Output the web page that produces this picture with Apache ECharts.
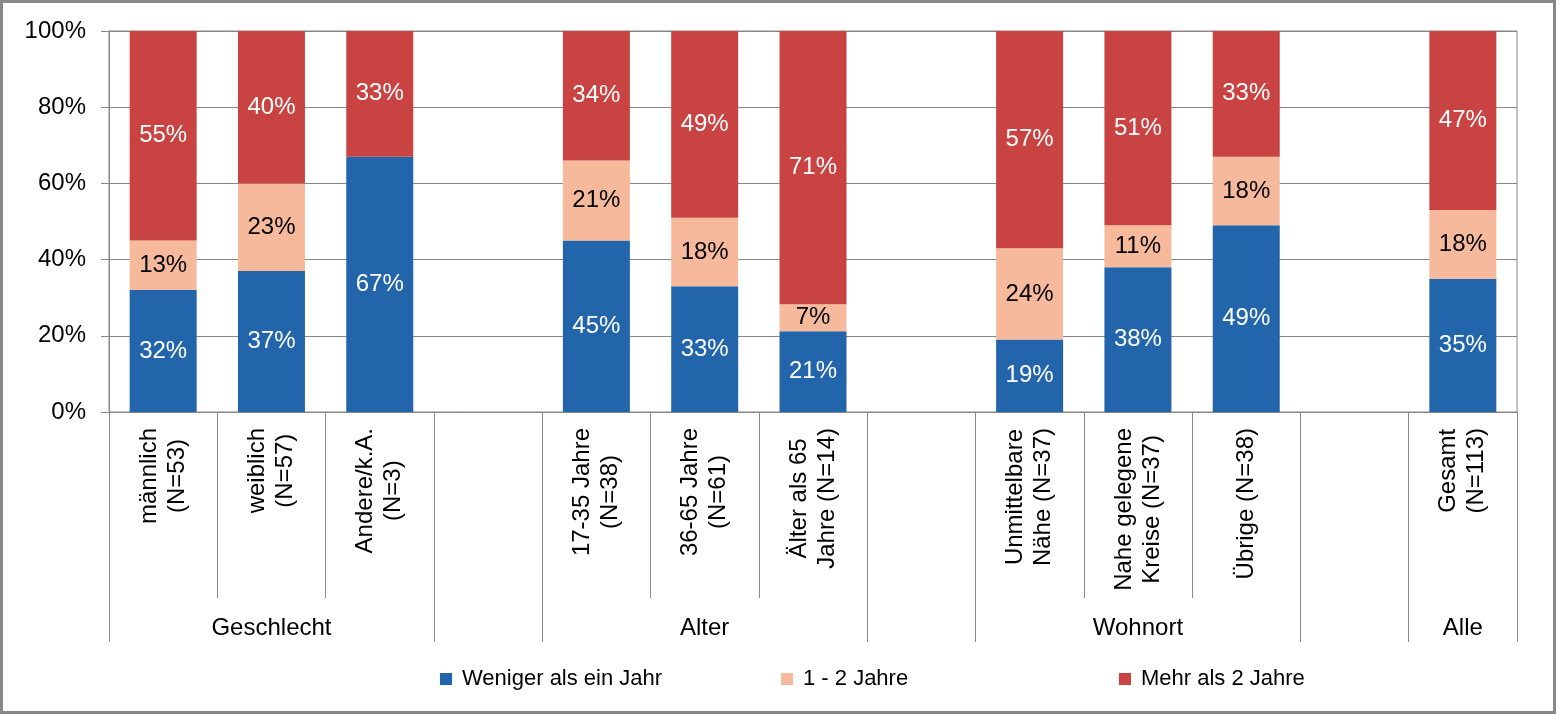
<!DOCTYPE html>
<html>
<head>
<meta charset="utf-8">
<script src="https://cdn.jsdelivr.net/npm/echarts@6/dist/echarts.min.js"></script>
<style>
  html, body { margin: 0; padding: 0; background: #fff; }
  #wrap { position: relative; width: 1556px; height: 714px; }
  #chart { position: absolute; left: 0; top: 0; width: 1556px; height: 714px; }
  #frame { position: absolute; left: 0; top: 0; width: 1556px; height: 714px; box-sizing: border-box; border: 3px solid #888; pointer-events: none; }
</style>
</head>
<body>
<div id="wrap"><div id="chart"></div><div id="frame"></div></div>
<script>
// ---- data ----
const categories = [
  'männlich\n(N=53)', 'weiblich\n(N=57)', 'Andere/k.A.\n(N=3)', ' ',
  '17-35 Jahre\n(N=38)', '36-65 Jahre\n(N=61)', 'Älter als 65\nJahre (N=14)', '  ',
  'Unmittelbare\nNähe (N=37)', 'Nahe gelegene\nKreise (N=37)', 'Übrige (N=38)', '   ',
  'Gesamt\n(N=113)'
];
const groupNames = ['Geschlecht', 'Alter', 'Wohnort', 'Alle'];
const groupBounds = [0, 3, 4, 7, 8, 11, 12, 13];
const seriesNames = ['Weniger als ein Jahr', '1 - 2 Jahre', 'Mehr als 2 Jahre'];
const lessThanOne = [32, 37, 67, null, 45, 33, 21, null, 19, 38, 49, null, 35];
const oneToTwo    = [13, 23, 0,  null, 21, 18, 7,  null, 24, 11, 18, null, 18];
const moreThanTwo = [55, 40, 33, null, 34, 49, 71, null, 57, 51, 33, null, 47];
const yTicks = [0, 20, 40, 60, 80, 100];

// ---- build ----
const FONT = 'Liberation Sans, Arial, sans-serif';
const GRAY = '#888888';
const colors = ['#2365AB', '#F7B99B', '#C84341'];
const labelColors = ['#ffffff', '#000000', '#ffffff'];
const raw = [lessThanOne, oneToTwo, moreThanTwo];
const totals = categories.map((c, i) => raw.reduce((s, arr) => s + (arr[i] || 0), 0));

const groupCenters = [];
for (let g = 0; g < groupBounds.length; g += 2) {
  groupCenters.push((groupBounds[g] + groupBounds[g + 1]) / 2);
}

const series = raw.map((arr, k) => ({
  name: seriesNames[k],
  type: 'bar',
  stack: 'total',
  barWidth: 67,
  xAxisIndex: 0,
  itemStyle: { color: colors[k] },
  label: {
    show: true,
    position: 'inside',
    color: labelColors[k],
    fontSize: 24,
    fontFamily: FONT,
    formatter: (p) => (raw[k][p.dataIndex] ? raw[k][p.dataIndex] + '%' : '')
  },
  data: arr.map((v, i) => (v == null ? null : v / totals[i] * 100))
}));

const legendLefts = [440, 781, 1119];
const legends = seriesNames.map((n, k) => ({
  data: [n],
  left: legendLefts[k],
  top: 668,
  padding: 0,
  icon: 'rect',
  itemWidth: 12,
  itemHeight: 12,
  selectedMode: false,
  textStyle: { fontSize: 22, fontFamily: FONT, color: '#000', padding: [0, 0, 0, 5] }
}));

const chart = echarts.init(document.getElementById('chart'), null, { renderer: 'canvas' });
chart.setOption({
  animation: false,
  color: colors,
  legend: legends,
  grid: { left: 109, right: 39, top: 31, bottom: 302, show: true, borderColor: GRAY, borderWidth: 1 },
  xAxis: [
    {
      type: 'category',
      data: categories,
      position: 'bottom',
      axisLine: { show: true, lineStyle: { color: GRAY, width: 1 } },
      axisTick: { show: true, interval: 0, alignWithLabel: false, length: 186, lineStyle: { color: GRAY, width: 1 } },
      axisLabel: {
        interval: 0,
        rotate: 90,
        margin: 16,
        color: '#000',
        fontSize: 24,
        fontFamily: FONT,
        formatter: (v) => v.split('\n').map(s => '{c|' + s + '}').join('\n'),
        rich: { c: { align: 'center', fontSize: 24, lineHeight: 28, fontFamily: FONT, color: '#000' } }
      },
      splitLine: { show: false }
    },
    {
      type: 'value',
      min: 0,
      max: categories.length,
      position: 'bottom',
      axisLine: { show: false },
      splitLine: { show: false },
      axisTick: { show: true, length: 230, customValues: groupBounds, lineStyle: { color: GRAY, width: 1 } },
      axisLabel: {
        show: true,
        customValues: groupCenters,
        margin: 204,
        color: '#000',
        fontSize: 24,
        fontFamily: FONT,
        formatter: (v) => {
          const idx = groupCenters.indexOf(v);
          return idx >= 0 ? groupNames[idx] : '';
        }
      }
    }
  ],
  yAxis: {
    type: 'value',
    min: yTicks[0],
    max: yTicks[yTicks.length - 1],
    interval: yTicks[1] - yTicks[0],
    axisLine: { show: true, lineStyle: { color: GRAY, width: 1 } },
    axisTick: { show: true, length: 8, lineStyle: { color: GRAY, width: 1 } },
    axisLabel: { formatter: '{value}%', fontSize: 24, fontFamily: FONT, color: '#000', margin: 23 },
    splitLine: { show: true, lineStyle: { color: GRAY, width: 1 } }
  },
  series: series
});
</script>
</body>
</html>
